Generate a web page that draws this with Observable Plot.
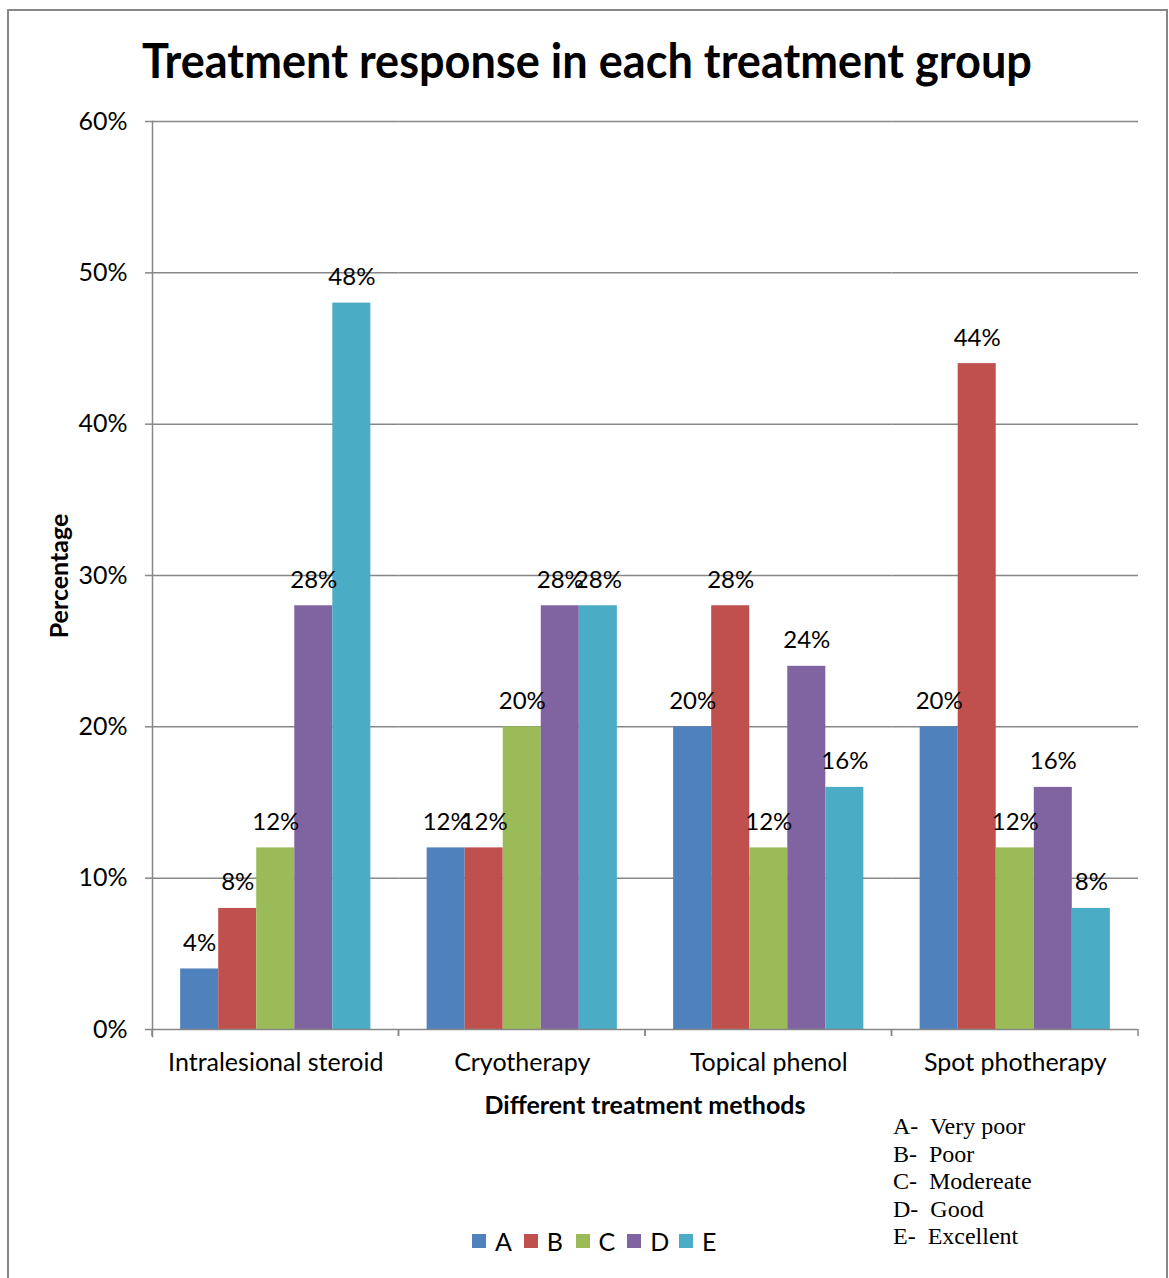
<!DOCTYPE html>
<html>
<head>
<meta charset="utf-8">
<script src="https://cdn.jsdelivr.net/npm/d3@7"></script>
<script src="https://cdn.jsdelivr.net/npm/@observablehq/plot@0.6"></script>
<style>
  body { margin: 0; background: #fff; }
  #page { position: relative; width: 1169px; height: 1278px; overflow: hidden;
          font-family: Lato, "Noto Sans", sans-serif; color: #000; }
  #box { position: absolute; left: 7px; top: 9px; width: 1157px; height: 1320px; border: 2px solid #878787; }
  #title { position: absolute; left: 142px; top: 30px; transform-origin: 0 0;
           font-weight: bold; font-size: 48px; line-height: 60px; white-space: nowrap; }
  #chart { position: absolute; left: 0; top: 0; }
  #ylabel { position: absolute; left: 58px; top: 576px; transform: translate(-50%, -50%) rotate(-90deg);
            font-weight: bold; font-size: 25px; white-space: nowrap; }
  #xlabel { position: absolute; left: 645px; top: 1104px; transform: translate(-50%, -50%);
            font-weight: bold; font-size: 25px; white-space: nowrap; }
  #legend { position: absolute; left: 472px; top: 1227px; display: flex; font-size: 25px; line-height: 28px; }
  #legend .item { display: flex; align-items: center; width: 51.75px; }
  #legend .sw { width: 14px; height: 14px; margin-right: 9px; }
  #key { position: absolute; left: 893px; top: 1113px; font-family: "Liberation Serif", serif;
         font-size: 24px; line-height: 27.5px; white-space: pre; }
</style>
</head>
<body>
<div id="page">
  <div id="box"></div>
  <div id="chart"></div>
  <div id="title">Treatment response in each treatment group</div>
  <div id="ylabel">Percentage</div>
  <div id="xlabel">Different treatment methods</div>
  <div id="legend"></div>
  <div id="key"></div>
</div>
<script>
// Treatment groups (x categories)
const groups = ["Intralesional steroid", "Cryotherapy", "Topical phenol", "Spot photherapy"];

// Response grades and their colours
const responses = ["A", "B", "C", "D", "E"];
const responseColors = ["#4F81BD", "#C0504D", "#9BBB59", "#8064A2", "#4BACC6"];
const responseNames = ["Very poor", "Poor", "Modereate", "Good", "Excellent"];

// Share of patients per response grade, one value per treatment group
const veryPoor  = [0.04, 0.12, 0.20, 0.20];
const poor      = [0.08, 0.12, 0.28, 0.44];
const moderate  = [0.12, 0.20, 0.12, 0.12];
const good      = [0.28, 0.28, 0.24, 0.16];
const excellent = [0.48, 0.28, 0.16, 0.08];

// Y axis ticks
const yTicks = [0, 0.1, 0.2, 0.3, 0.4, 0.5, 0.6];

const series = [veryPoor, poor, moderate, good, excellent];
const rows = groups.flatMap((group, gi) =>
  responses.map((response, ri) => ({group, response, value: series[ri][gi]}))
);

const pct = d => `${Math.round(d * 100)}%`;
const axisGray = "#878787";

// Small downward ticks at both edges of each treatment group, Excel-style
function groupBoundaryTicks(index, scales, values, dimensions) {
  const {width, height, marginLeft, marginRight, marginBottom} = dimensions;
  const y0 = height - marginBottom;
  const g = d3.create("svg:g").attr("stroke", axisGray).attr("stroke-width", 1.5);
  for (const x of [marginLeft, width - marginRight]) {
    g.append("line").attr("x1", x).attr("x2", x).attr("y1", y0).attr("y2", y0 + 7);
  }
  return g.node();
}

const chart = Plot.plot({
  width: 1169,
  height: 1120,
  marginLeft: 152,
  marginRight: 31,
  marginTop: 121,
  marginBottom: 91,
  style: {fontFamily: `Lato, "Noto Sans", sans-serif`, fontSize: "24px", color: "#000", background: "transparent", overflow: "visible"},
  fx: {domain: groups, paddingInner: 0, paddingOuter: 0, round: false},
  x: {domain: responses, paddingInner: 0, paddingOuter: 0.74, round: false, axis: null},
  y: {domain: [0, 0.6]},
  color: {domain: responses, range: responseColors},
  marks: [
    Plot.ruleY(yTicks.slice(1), {stroke: axisGray, strokeWidth: 1.5}),
    Plot.barY(rows, {fx: "group", x: "response", y: "value", fill: "response"}),
    Plot.ruleY([0], {stroke: axisGray, strokeWidth: 1.5}),
    Plot.frame({anchor: "left", facetAnchor: "left", stroke: axisGray, strokeWidth: 1.5, insetBottom: -7}),
    groupBoundaryTicks,
    Plot.text(rows, {
      fx: "group", x: "response", y: "value", text: d => pct(d.value),
      lineAnchor: "bottom", dy: -18, fontSize: 24, fill: "#000"
    }),
    Plot.axisY({
      ticks: yTicks, tickFormat: pct, tickSize: 7, tickPadding: 18,
      fontSize: 25, stroke: axisGray, strokeWidth: 1.5, fill: "#000", label: null
    }),
    Plot.axisFx({anchor: "bottom", tickSize: 0, tickPadding: 24, fontSize: 25, fill: "#000", label: null})
  ]
});
document.getElementById("chart").appendChild(chart);

// Title set in a condensed width across the chart
const title = document.getElementById("title");
title.style.transform = `scale(${890 / title.getBoundingClientRect().width}, 1)`;

// Legend for the response grades
const legend = d3.select("#legend");
responses.forEach((r, i) => {
  const item = legend.append("div").attr("class", "item");
  item.append("div").attr("class", "sw").style("background", responseColors[i]);
  item.append("span").text(r);
});

// Key explaining each grade letter
d3.select("#key").text(responses.map((r, i) => `${r}-  ${responseNames[i]}`).join("\n"));
</script>
</body>
</html>
